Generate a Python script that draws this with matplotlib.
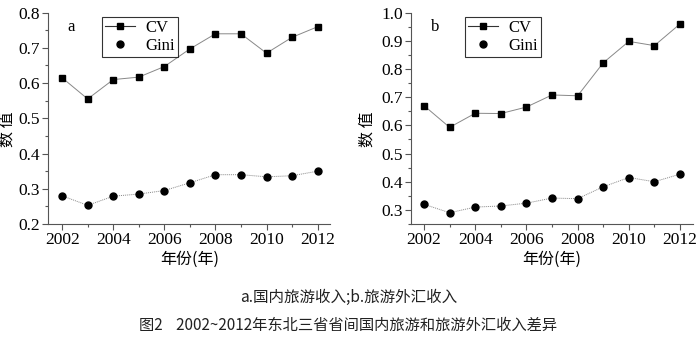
import matplotlib.pyplot as plt
from matplotlib.lines import Line2D
from matplotlib.ticker import MultipleLocator

# yearly inequality indices
years = [2002, 2003, 2004, 2005, 2006, 2007, 2008, 2009, 2010, 2011, 2012]
cv_domestic = [0.615, 0.555, 0.610, 0.617, 0.647, 0.697, 0.740, 0.740, 0.685, 0.730, 0.760]
gini_domestic = [0.280, 0.253, 0.279, 0.285, 0.295, 0.317, 0.340, 0.340, 0.334, 0.337, 0.350]
cv_forex = [0.670, 0.593, 0.643, 0.642, 0.665, 0.708, 0.705, 0.822, 0.898, 0.883, 0.960]
gini_forex = [0.320, 0.290, 0.310, 0.314, 0.324, 0.342, 0.340, 0.382, 0.415, 0.400, 0.427]

serif = ["Liberation Serif", "DejaVu Serif"]
cjk = ["Noto Sans CJK SC", "DejaVu Sans"]
plt.rcParams["font.family"] = serif

fig = plt.figure(figsize=(6.97, 3.42), dpi=100)
ax_a = fig.add_axes([0.069, 0.345, 0.405, 0.618])
ax_b = fig.add_axes([0.590, 0.345, 0.404, 0.618])


def draw_panel(ax, cv, gini, ylim, yticks, ymin, letter, xlim, ylab_x):
    ax.plot(years, cv, color="#888888", lw=0.7, marker="s", ms=5,
            mfc="black", mec="black")
    ax.plot(years, gini, color="#888888", lw=0.7, ls=(0, (1, 1)), marker="o",
            ms=5, mfc="black", mec="black")
    ax.set_xlim(*xlim)
    ax.set_ylim(*ylim)
    ax.set_xticks([2002, 2004, 2006, 2008, 2010, 2012])
    ax.xaxis.set_minor_locator(MultipleLocator(1))
    ax.set_yticks(yticks)
    ax.yaxis.set_minor_locator(MultipleLocator(ymin))
    for s in ("top", "right"):
        ax.spines[s].set_visible(False)
    for s in ("left", "bottom"):
        ax.spines[s].set_color("#555555")
        ax.spines[s].set_linewidth(0.8)
    ax.tick_params(which="major", length=4, width=0.8, color="#555555",
                   labelsize=12.5, pad=2)
    ax.tick_params(which="minor", length=2.5, width=0.8, color="#555555")
    ax.set_ylabel("数 值", family=cjk, fontsize=11.5)
    ax.yaxis.set_label_coords(ylab_x, 0.45)
    ax.set_xlabel("年份(年)", family=cjk, fontsize=11.5, labelpad=2)
    ax.text(0.07, 0.97, letter, transform=ax.transAxes, fontsize=12,
            va="top", ha="left")
    handles = [
        Line2D([], [], color="#333333", lw=0.8, marker="s", ms=5,
               mfc="black", mec="black"),
        Line2D([], [], color="none", marker="o", ms=5, mfc="black", mec="black"),
    ]
    leg = ax.legend(handles, ["CV", "Gini"], loc="upper left",
                    bbox_to_anchor=(0.19, 0.98), fontsize=12, frameon=True,
                    fancybox=False, borderpad=0.2, handlelength=1.8,
                    handletextpad=0.6, labelspacing=0.1, borderaxespad=0)
    leg.get_frame().set_edgecolor("black")
    leg.get_frame().set_linewidth(0.8)


draw_panel(ax_a, cv_domestic, gini_domestic, (0.2, 0.8),
           [0.2, 0.3, 0.4, 0.5, 0.6, 0.7, 0.8], 0.05, "a", (2001.45, 2012.5),
           -0.115)
draw_panel(ax_b, cv_forex, gini_forex, (0.25, 1.0),
           [0.3, 0.4, 0.5, 0.6, 0.7, 0.8, 0.9, 1.0], 0.05, "b", (2001.5, 2012.5),
           -0.128)

fig.text(0.5, 1 - 297 / 342, "a.国内旅游收入;b.旅游外汇收入", family=cjk,
         fontsize=11.2, ha="center", va="center", color="#222222")
fig.text(0.5, 1 - 325 / 342, "图2    2002~2012年东北三省省间国内旅游和旅游外汇收入差异",
         family=cjk, fontsize=11, ha="center", va="center", color="#222222")

fig.savefig("out.png", dpi=100)
